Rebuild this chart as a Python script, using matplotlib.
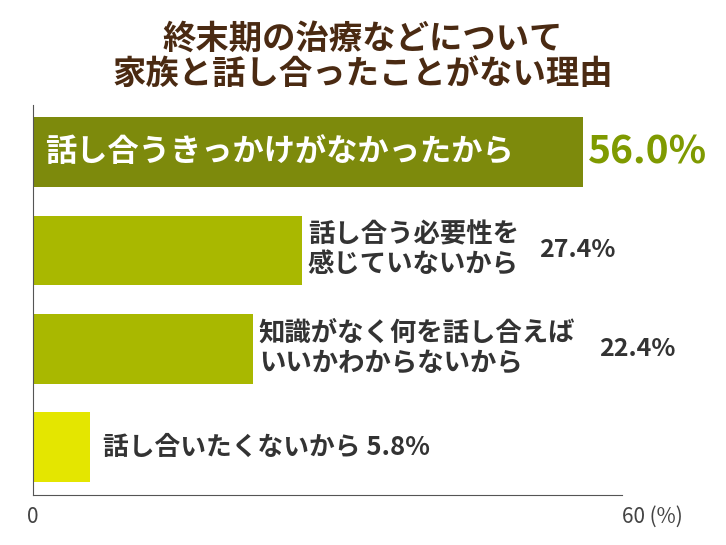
import matplotlib
matplotlib.use('Agg')
import matplotlib.pyplot as plt

plt.rcParams['font.family'] = ['Noto Sans CJK JP', 'DejaVu Sans']

reasons = ['話し合うきっかけがなかったから',
           '話し合う必要性を\n感じていないから',
           '知識がなく何を話し合えば\nいいかわからないから',
           '話し合いたくないから']
values = [56.0, 27.4, 22.4, 5.8]
colors = ['#7d8a0c', '#a9b800', '#a9b800', '#e4e600']

fig = plt.figure(figsize=(7.26, 5.45), dpi=100)
ax = fig.add_axes([33 / 726, 1 - 495 / 545, 589 / 726, 390 / 545])

pos = list(range(len(values)))
ax.barh(pos, values, height=0.71, color=colors)
ax.set_xlim(0, 60)
ax.set_ylim(3.49, -0.48)

for s in ['top', 'right']:
    ax.spines[s].set_visible(False)
for s in ['left', 'bottom']:
    ax.spines[s].set_color('#555555')
ax.set_yticks([])
ax.set_xticks([0, 60])
ax.set_xticklabels(['0', '60 (%)'])
ax.tick_params(axis='x', length=0, labelsize=15, colors='#444444', pad=8)
ax.get_xticklabels()[1].set_horizontalalignment('left')
ax.get_xticklabels()[1].set_x(60)

dark = '#333333'
# bar 1: label inside, big green value
ax.text(1.2, pos[0], reasons[0], color='white', fontsize=22.5, fontweight='bold', va='center')
ax.text(values[0] + 0.5, pos[0], f'{values[0]:.1f}%', color='#7f9a00', fontsize=28,
        fontweight='bold', va='center')
# bars 2, 3
val_x = [51.6, 57.7]
for i, vx in zip([1, 2], val_x):
    ax.text(values[i] + 0.6, pos[i], reasons[i], color=dark, fontsize=19,
            fontweight='bold', va='center', linespacing=1.15)
    ax.text(vx, pos[i], f'{values[i]:.1f}%', color=dark, fontsize=18,
            fontweight='bold', va='center')
# bar 4
ax.text(values[3] + 1.3, pos[3], f'{reasons[3]} {values[3]:.1f}%', color=dark, fontsize=18.5,
        fontweight='bold', va='center')

fig.text(0.5, 1 - 57 / 545, '終末期の治療などについて\n家族と話し合ったことがない理由',
         ha='center', va='center', fontsize=24, fontweight='bold', color='#4a2a12',
         linespacing=1.1)

fig.savefig('out.png', dpi=100)
